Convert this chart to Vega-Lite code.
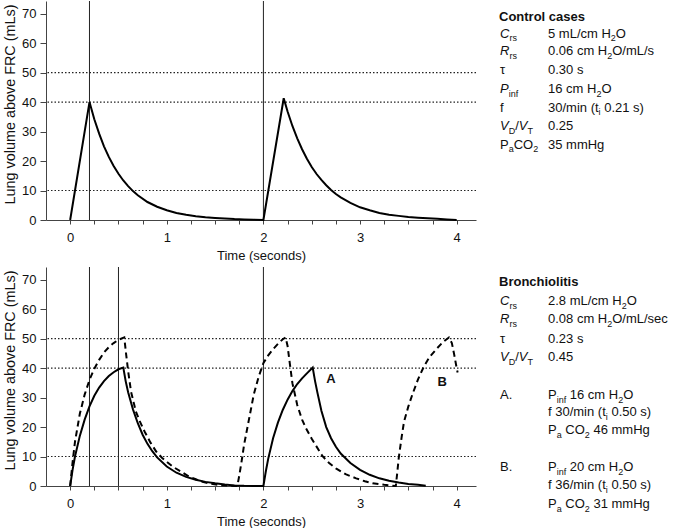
{
  "$schema": "https://vega.github.io/schema/vega-lite/v6.json",
  "background": "white",
  "padding": {"left": 2, "top": 0, "right": 0, "bottom": 0},
  "spacing": 4,
  "config": {
    "view": {"stroke": null},
    "font": "Liberation Sans",
    "axis": {
      "grid": false,
      "domainColor": "#444",
      "tickColor": "#444",
      "labelFont": "Liberation Sans",
      "titleFont": "Liberation Sans",
      "labelFontSize": 13,
      "titleFontSize": 13,
      "titleFontWeight": "normal",
      "labelColor": "#111",
      "titleColor": "#111",
      "labelOverlap": false,
      "labelFlush": false
    },
    "axisX": {"tickSize": 4, "labelPadding": 7, "titlePadding": 5},
    "axisY": {"tickSize": 6, "labelPadding": 4, "titlePadding": 4, "titleFontSize": 14.4},
    "text": {"font": "Liberation Sans", "color": "#111"}
  },
  "datasets": {
    "hl": [{"v": 10}, {"v": 40}, {"v": 50}],
    "vl1": [{"t": 0.2}, {"t": 2.0}],
    "vl2": [{"t": 0.2}, {"t": 0.5}, {"t": 2.0}],
    "ab": [{"t": 2.70, "v": 36.3, "label": "A"}, {"t": 3.85, "v": 35.4, "label": "B"}],
    "ctrl": [
      {"t": 0, "v": 0}, {"t": 0.2, "v": 40}, {"t": 0.25, "v": 34.2}, {"t": 0.3, "v": 29.3}, {"t": 0.35, "v": 25.0},
      {"t": 0.4, "v": 21.4}, {"t": 0.45, "v": 18.3}, {"t": 0.5, "v": 15.7}, {"t": 0.55, "v": 13.4}, {"t": 0.6, "v": 11.5},
      {"t": 0.65, "v": 9.8}, {"t": 0.7, "v": 8.4}, {"t": 0.8, "v": 6.1}, {"t": 0.9, "v": 4.5}, {"t": 1.0, "v": 3.3},
      {"t": 1.1, "v": 2.4}, {"t": 1.2, "v": 1.8}, {"t": 1.3, "v": 1.3}, {"t": 1.4, "v": 0.9}, {"t": 1.5, "v": 0.7},
      {"t": 1.6, "v": 0.5}, {"t": 1.7, "v": 0.3}, {"t": 1.8, "v": 0.2}, {"t": 1.9, "v": 0.1}, {"t": 2.0, "v": 0},
      {"t": 2.21, "v": 41.3}, {"t": 2.25, "v": 36.8}, {"t": 2.3, "v": 31.9}, {"t": 2.35, "v": 27.7}, {"t": 2.4, "v": 24.0},
      {"t": 2.45, "v": 20.8}, {"t": 2.5, "v": 18.0}, {"t": 2.55, "v": 15.6}, {"t": 2.6, "v": 13.6}, {"t": 2.65, "v": 11.8},
      {"t": 2.7, "v": 10.2}, {"t": 2.75, "v": 8.8}, {"t": 2.8, "v": 7.7}, {"t": 2.9, "v": 5.8}, {"t": 3.0, "v": 4.3},
      {"t": 3.1, "v": 3.3}, {"t": 3.2, "v": 2.4}, {"t": 3.3, "v": 1.8}, {"t": 3.4, "v": 1.4}, {"t": 3.5, "v": 1.0},
      {"t": 3.6, "v": 0.8}, {"t": 3.7, "v": 0.6}, {"t": 3.8, "v": 0.4}, {"t": 3.9, "v": 0.2}, {"t": 4.0, "v": 0}
    ],
    "solA": [
      {"t": 0, "v": 0}, {"t": 0.025, "v": 5.5}, {"t": 0.05, "v": 10.0}, {"t": 0.1, "v": 17.0}, {"t": 0.15, "v": 22.5},
      {"t": 0.2, "v": 27.0}, {"t": 0.25, "v": 30.6}, {"t": 0.3, "v": 33.4}, {"t": 0.35, "v": 35.6}, {"t": 0.4, "v": 37.3},
      {"t": 0.45, "v": 38.6}, {"t": 0.5, "v": 39.6}, {"t": 0.55, "v": 40.2}, {"t": 0.575, "v": 35.5}, {"t": 0.6, "v": 31.8},
      {"t": 0.65, "v": 26.0}, {"t": 0.7, "v": 21.3}, {"t": 0.75, "v": 17.4}, {"t": 0.8, "v": 14.3}, {"t": 0.85, "v": 11.8},
      {"t": 0.9, "v": 9.7}, {"t": 1.0, "v": 6.6}, {"t": 1.1, "v": 4.5}, {"t": 1.2, "v": 3.1}, {"t": 1.3, "v": 2.1},
      {"t": 1.4, "v": 1.4}, {"t": 1.5, "v": 0.9}, {"t": 1.6, "v": 0.5}, {"t": 1.7, "v": 0.2}, {"t": 1.8, "v": 0.05},
      {"t": 1.9, "v": 0}, {"t": 2.0, "v": 0},
      {"t": 2.025, "v": 5.0}, {"t": 2.05, "v": 9.3}, {"t": 2.1, "v": 16.2}, {"t": 2.15, "v": 21.5}, {"t": 2.2, "v": 25.8},
      {"t": 2.25, "v": 29.3}, {"t": 2.3, "v": 32.2}, {"t": 2.35, "v": 34.6}, {"t": 2.4, "v": 36.5}, {"t": 2.45, "v": 38.2},
      {"t": 2.51, "v": 40.2}, {"t": 2.535, "v": 35.5}, {"t": 2.56, "v": 31.5}, {"t": 2.6, "v": 25.5}, {"t": 2.65, "v": 20.0},
      {"t": 2.7, "v": 16.2}, {"t": 2.75, "v": 13.3}, {"t": 2.8, "v": 11.0}, {"t": 2.9, "v": 7.8}, {"t": 3.0, "v": 5.5},
      {"t": 3.1, "v": 3.8}, {"t": 3.2, "v": 2.6}, {"t": 3.3, "v": 1.8}, {"t": 3.4, "v": 1.2}, {"t": 3.5, "v": 0.7},
      {"t": 3.6, "v": 0.4}, {"t": 3.68, "v": 0.1}
    ],
    "dashB": [
      {"t": 0, "v": 0}, {"t": 0.025, "v": 8}, {"t": 0.05, "v": 15}, {"t": 0.1, "v": 24.5}, {"t": 0.15, "v": 31},
      {"t": 0.2, "v": 36}, {"t": 0.25, "v": 39.8}, {"t": 0.3, "v": 42.8}, {"t": 0.35, "v": 45.3}, {"t": 0.4, "v": 47.1},
      {"t": 0.45, "v": 48.5}, {"t": 0.5, "v": 49.6}, {"t": 0.56, "v": 50.4}, {"t": 0.58, "v": 44.5}, {"t": 0.6, "v": 39.0},
      {"t": 0.63, "v": 32.0}, {"t": 0.68, "v": 25.3}, {"t": 0.72, "v": 22.0}, {"t": 0.77, "v": 18.5}, {"t": 0.83, "v": 14.8},
      {"t": 0.89, "v": 11.7}, {"t": 0.95, "v": 9.6}, {"t": 1.0, "v": 8.2}, {"t": 1.06, "v": 6.6}, {"t": 1.15, "v": 4.8},
      {"t": 1.23, "v": 3.2}, {"t": 1.3, "v": 2.3}, {"t": 1.37, "v": 1.4}, {"t": 1.45, "v": 0.8}, {"t": 1.55, "v": 0.3},
      {"t": 1.65, "v": 0.1}, {"t": 1.73, "v": 0},
      {"t": 1.75, "v": 3.5}, {"t": 1.775, "v": 8.5}, {"t": 1.8, "v": 14}, {"t": 1.85, "v": 22.5}, {"t": 1.9, "v": 31},
      {"t": 1.95, "v": 37}, {"t": 2.0, "v": 41.7}, {"t": 2.05, "v": 44.3}, {"t": 2.1, "v": 46.4}, {"t": 2.15, "v": 48.2},
      {"t": 2.2, "v": 49.8}, {"t": 2.23, "v": 50.4}, {"t": 2.25, "v": 47.5}, {"t": 2.275, "v": 41.1}, {"t": 2.3, "v": 34.9},
      {"t": 2.35, "v": 27.5}, {"t": 2.4, "v": 22.5}, {"t": 2.44, "v": 19.6}, {"t": 2.5, "v": 16.0}, {"t": 2.54, "v": 13.9},
      {"t": 2.61, "v": 10.2}, {"t": 2.68, "v": 7.8}, {"t": 2.75, "v": 6.0}, {"t": 2.85, "v": 4.0}, {"t": 2.96, "v": 2.6},
      {"t": 3.05, "v": 1.6}, {"t": 3.13, "v": 0.9}, {"t": 3.25, "v": 0.4}, {"t": 3.37, "v": 0},
      {"t": 3.385, "v": 4.5}, {"t": 3.4, "v": 9.4}, {"t": 3.43, "v": 16.5}, {"t": 3.455, "v": 21.8}, {"t": 3.5, "v": 27.0},
      {"t": 3.54, "v": 30.9}, {"t": 3.6, "v": 36.2}, {"t": 3.66, "v": 40.5}, {"t": 3.72, "v": 43.8}, {"t": 3.8, "v": 46.8},
      {"t": 3.86, "v": 48.9}, {"t": 3.92, "v": 50.4}, {"t": 3.95, "v": 48.5}, {"t": 3.975, "v": 44.5}, {"t": 4.0, "v": 40.0},
      {"t": 4.01, "v": 38.5}
    ],
    "txt1": [
      {"x": 7, "y": 15.5, "s": "b", "t": "Control cases"},
      {"x": 8, "y": 32.5, "s": "i", "t": "C"},
      {"x": 17.4, "y": 37, "s": "sub", "t": "rs"},
      {"x": 8, "y": 50, "s": "i", "t": "R"},
      {"x": 17.4, "y": 54.5, "s": "sub", "t": "rs"},
      {"x": 8, "y": 69, "s": "n", "t": "τ"},
      {"x": 8, "y": 88, "s": "i", "t": "P"},
      {"x": 16.7, "y": 92.5, "s": "sub", "t": "inf"},
      {"x": 8, "y": 106.5, "s": "n", "t": "f"},
      {"x": 8, "y": 125, "s": "i", "t": "V"},
      {"x": 16.7, "y": 129.5, "s": "sub", "t": "D"},
      {"x": 23.2, "y": 125, "s": "n", "t": "/"},
      {"x": 26.8, "y": 125, "s": "i", "t": "V"},
      {"x": 35.5, "y": 129.5, "s": "sub", "t": "T"},
      {"x": 8, "y": 143.5, "s": "n", "t": "P"},
      {"x": 16.7, "y": 148, "s": "sub", "t": "a"},
      {"x": 21.7, "y": 143.5, "s": "n", "t": "CO"},
      {"x": 41.2, "y": 148, "s": "sub", "t": "2"},
      {"x": 56, "y": 32.5, "s": "n", "t": "5 mL/cm H"},
      {"x": 118.8, "y": 37, "s": "sub", "t": "2"},
      {"x": 123.8, "y": 32.5, "s": "n", "t": "O"},
      {"x": 56, "y": 50, "s": "n", "t": "0.06 cm H"},
      {"x": 115.2, "y": 54.5, "s": "sub", "t": "2"},
      {"x": 120.2, "y": 50, "s": "n", "t": "O/mL/s"},
      {"x": 56, "y": 69, "s": "n", "t": "0.30 s"},
      {"x": 56, "y": 88, "s": "n", "t": "16 cm H"},
      {"x": 104.4, "y": 92.5, "s": "sub", "t": "2"},
      {"x": 109.4, "y": 88, "s": "n", "t": "O"},
      {"x": 56, "y": 106.5, "s": "n", "t": "30/min (t"},
      {"x": 106.6, "y": 111, "s": "sub", "t": "i"},
      {"x": 112.2, "y": 106.5, "s": "n", "t": "0.21 s)"},
      {"x": 56, "y": 125, "s": "n", "t": "0.25"},
      {"x": 56, "y": 143.5, "s": "n", "t": "35 mmHg"}
    ],
    "txt2": [
      {"x": 7, "y": 14.7, "s": "b", "t": "Bronchiolitis"},
      {"x": 8, "y": 34, "s": "i", "t": "C"},
      {"x": 17.4, "y": 38.5, "s": "sub", "t": "rs"},
      {"x": 8, "y": 52, "s": "i", "t": "R"},
      {"x": 17.4, "y": 56.5, "s": "sub", "t": "rs"},
      {"x": 8, "y": 71.5, "s": "n", "t": "τ"},
      {"x": 8, "y": 90, "s": "i", "t": "V"},
      {"x": 16.7, "y": 94.5, "s": "sub", "t": "D"},
      {"x": 23.2, "y": 90, "s": "n", "t": "/"},
      {"x": 26.8, "y": 90, "s": "i", "t": "V"},
      {"x": 35.5, "y": 94.5, "s": "sub", "t": "T"},
      {"x": 56, "y": 34, "s": "n", "t": "2.8 mL/cm H"},
      {"x": 129.7, "y": 38.5, "s": "sub", "t": "2"},
      {"x": 134.7, "y": 34, "s": "n", "t": "O"},
      {"x": 56, "y": 52, "s": "n", "t": "0.08 cm H"},
      {"x": 115.2, "y": 56.5, "s": "sub", "t": "2"},
      {"x": 120.2, "y": 52, "s": "n", "t": "O/mL/sec"},
      {"x": 56, "y": 71.5, "s": "n", "t": "0.23 s"},
      {"x": 56, "y": 90, "s": "n", "t": "0.45"},
      {"x": 8, "y": 128, "s": "n", "t": "A."},
      {"x": 56, "y": 128, "s": "n", "t": "P"},
      {"x": 64.7, "y": 132.5, "s": "sub", "t": "inf"},
      {"x": 77.8, "y": 128, "s": "n", "t": "16 cm H"},
      {"x": 126.2, "y": 132.5, "s": "sub", "t": "2"},
      {"x": 131.2, "y": 128, "s": "n", "t": "O"},
      {"x": 56, "y": 145, "s": "n", "t": "f 30/min (t"},
      {"x": 113.8, "y": 149.5, "s": "sub", "t": "i"},
      {"x": 119.4, "y": 145, "s": "n", "t": "0.50 s)"},
      {"x": 56, "y": 163, "s": "n", "t": "P"},
      {"x": 64.7, "y": 167.5, "s": "sub", "t": "a"},
      {"x": 73.3, "y": 163, "s": "n", "t": "CO"},
      {"x": 92.8, "y": 167.5, "s": "sub", "t": "2"},
      {"x": 101.4, "y": 163, "s": "n", "t": "46 mmHg"},
      {"x": 8, "y": 200, "s": "n", "t": "B."},
      {"x": 56, "y": 200, "s": "n", "t": "P"},
      {"x": 64.7, "y": 204.5, "s": "sub", "t": "inf"},
      {"x": 77.8, "y": 200, "s": "n", "t": "20 cm H"},
      {"x": 126.2, "y": 204.5, "s": "sub", "t": "2"},
      {"x": 131.2, "y": 200, "s": "n", "t": "O"},
      {"x": 56, "y": 218, "s": "n", "t": "f 36/min (t"},
      {"x": 113.8, "y": 222.5, "s": "sub", "t": "i"},
      {"x": 119.4, "y": 218, "s": "n", "t": "0.50 s)"},
      {"x": 56, "y": 237, "s": "n", "t": "P"},
      {"x": 64.7, "y": 241.5, "s": "sub", "t": "a"},
      {"x": 73.3, "y": 237, "s": "n", "t": "CO"},
      {"x": 92.8, "y": 241.5, "s": "sub", "t": "2"},
      {"x": 101.4, "y": 237, "s": "n", "t": "31 mmHg"}
    ]
  },
  "vconcat": [
    {
      "spacing": 15,
      "hconcat": [
        {
          "width": 430,
          "height": 219,
          "layer": [
            {
              "data": {"name": "hl"},
              "mark": {"type": "rule", "strokeDash": [1.5, 2], "color": "#222", "strokeWidth": 1.2},
              "encoding": {
                "y": {
                  "field": "v", "type": "quantitative", "title": "Lung volume above FRC (mLs)",
                  "scale": {"domain": [0, 74.3], "nice": false},
                  "axis": {"values": [0, 10, 20, 30, 40, 50, 60, 70], "titleY": 103}
                }
              }
            },
            {
              "data": {"name": "vl1"},
              "mark": {"type": "rule", "color": "#222", "strokeWidth": 1},
              "encoding": {
                "x": {
                  "field": "t", "type": "quantitative", "title": "Time (seconds)",
                  "scale": {"domain": [-0.25, 4.2], "nice": false, "zero": false},
                  "axis": {
                    "values": [0, 0.25, 0.5, 0.75, 1, 1.25, 1.5, 1.75, 2, 2.25, 2.5, 2.75, 3, 3.25, 3.5, 3.75, 4],
                    "labelExpr": "datum.value % 1 === 0 ? format(datum.value, 'd') : ''"
                  }
                }
              }
            },
            {
              "data": {"name": "ctrl"},
              "mark": {"type": "line", "color": "#000", "strokeWidth": 2},
              "encoding": {
                "x": {
                  "field": "t", "type": "quantitative", "title": "Time (seconds)",
                  "scale": {"domain": [-0.25, 4.2], "nice": false, "zero": false},
                  "axis": {
                    "values": [0, 0.25, 0.5, 0.75, 1, 1.25, 1.5, 1.75, 2, 2.25, 2.5, 2.75, 3, 3.25, 3.5, 3.75, 4],
                    "labelExpr": "datum.value % 1 === 0 ? format(datum.value, 'd') : ''"
                  }
                },
                "y": {
                  "field": "v", "type": "quantitative", "title": "Lung volume above FRC (mLs)",
                  "scale": {"domain": [0, 74.3], "nice": false},
                  "axis": {"values": [0, 10, 20, 30, 40, 50, 60, 70], "titleY": 103}
                }
              }
            }
          ]
        },
        {
          "width": 183,
          "height": 219,
          "data": {"name": "txt1"},
          "encoding": {
            "x": {"field": "x", "type": "quantitative", "scale": {"domain": [0, 183], "nice": false}, "axis": null},
            "y": {"field": "y", "type": "quantitative", "scale": {"domain": [0, 219], "nice": false, "reverse": true}, "axis": null},
            "text": {"field": "t"}
          },
          "layer": [
            {"transform": [{"filter": "datum.s == 'n'"}], "mark": {"type": "text", "align": "left", "baseline": "middle", "fontSize": 13}},
            {"transform": [{"filter": "datum.s == 'i'"}], "mark": {"type": "text", "align": "left", "baseline": "middle", "fontSize": 13, "fontStyle": "italic"}},
            {"transform": [{"filter": "datum.s == 'b'"}], "mark": {"type": "text", "align": "left", "baseline": "middle", "fontSize": 13, "fontWeight": "bold"}},
            {"transform": [{"filter": "datum.s == 'sub'"}], "mark": {"type": "text", "align": "left", "baseline": "middle", "fontSize": 9}}
          ]
        }
      ]
    },
    {
      "spacing": 15,
      "hconcat": [
        {
          "width": 430,
          "height": 219,
          "layer": [
            {
              "data": {"name": "hl"},
              "mark": {"type": "rule", "strokeDash": [1.5, 2], "color": "#222", "strokeWidth": 1.2},
              "encoding": {
                "y": {
                  "field": "v", "type": "quantitative", "title": "Lung volume above FRC (mLs)",
                  "scale": {"domain": [0, 74.3], "nice": false},
                  "axis": {"values": [0, 10, 20, 30, 40, 50, 60, 70], "titleY": 103}
                }
              }
            },
            {
              "data": {"name": "vl2"},
              "mark": {"type": "rule", "color": "#222", "strokeWidth": 1},
              "encoding": {
                "x": {
                  "field": "t", "type": "quantitative", "title": "Time (seconds)",
                  "scale": {"domain": [-0.25, 4.2], "nice": false, "zero": false},
                  "axis": {
                    "values": [0, 0.25, 0.5, 0.75, 1, 1.25, 1.5, 1.75, 2, 2.25, 2.5, 2.75, 3, 3.25, 3.5, 3.75, 4],
                    "labelExpr": "datum.value % 1 === 0 ? format(datum.value, 'd') : ''"
                  }
                }
              }
            },
            {
              "data": {"name": "dashB"},
              "mark": {"type": "line", "color": "#000", "strokeWidth": 2, "strokeDash": [6, 4]},
              "encoding": {
                "x": {
                  "field": "t", "type": "quantitative", "title": "Time (seconds)",
                  "scale": {"domain": [-0.25, 4.2], "nice": false, "zero": false},
                  "axis": {
                    "values": [0, 0.25, 0.5, 0.75, 1, 1.25, 1.5, 1.75, 2, 2.25, 2.5, 2.75, 3, 3.25, 3.5, 3.75, 4],
                    "labelExpr": "datum.value % 1 === 0 ? format(datum.value, 'd') : ''"
                  }
                },
                "y": {
                  "field": "v", "type": "quantitative", "title": "Lung volume above FRC (mLs)",
                  "scale": {"domain": [0, 74.3], "nice": false},
                  "axis": {"values": [0, 10, 20, 30, 40, 50, 60, 70], "titleY": 103}
                }
              }
            },
            {
              "data": {"name": "solA"},
              "mark": {"type": "line", "color": "#000", "strokeWidth": 2},
              "encoding": {
                "x": {
                  "field": "t", "type": "quantitative", "title": "Time (seconds)",
                  "scale": {"domain": [-0.25, 4.2], "nice": false, "zero": false},
                  "axis": {
                    "values": [0, 0.25, 0.5, 0.75, 1, 1.25, 1.5, 1.75, 2, 2.25, 2.5, 2.75, 3, 3.25, 3.5, 3.75, 4],
                    "labelExpr": "datum.value % 1 === 0 ? format(datum.value, 'd') : ''"
                  }
                },
                "y": {
                  "field": "v", "type": "quantitative", "title": "Lung volume above FRC (mLs)",
                  "scale": {"domain": [0, 74.3], "nice": false},
                  "axis": {"values": [0, 10, 20, 30, 40, 50, 60, 70], "titleY": 103}
                }
              }
            },
            {
              "data": {"name": "ab"},
              "mark": {"type": "text", "fontSize": 13, "fontWeight": "bold", "align": "center", "baseline": "middle"},
              "encoding": {
                "x": {
                  "field": "t", "type": "quantitative", "title": "Time (seconds)",
                  "scale": {"domain": [-0.25, 4.2], "nice": false, "zero": false},
                  "axis": {
                    "values": [0, 0.25, 0.5, 0.75, 1, 1.25, 1.5, 1.75, 2, 2.25, 2.5, 2.75, 3, 3.25, 3.5, 3.75, 4],
                    "labelExpr": "datum.value % 1 === 0 ? format(datum.value, 'd') : ''"
                  }
                },
                "y": {
                  "field": "v", "type": "quantitative", "title": "Lung volume above FRC (mLs)",
                  "scale": {"domain": [0, 74.3], "nice": false},
                  "axis": {"values": [0, 10, 20, 30, 40, 50, 60, 70], "titleY": 103}
                },
                "text": {"field": "label"}
              }
            }
          ]
        },
        {
          "width": 183,
          "height": 219,
          "data": {"name": "txt2"},
          "encoding": {
            "x": {"field": "x", "type": "quantitative", "scale": {"domain": [0, 183], "nice": false}, "axis": null},
            "y": {"field": "y", "type": "quantitative", "scale": {"domain": [0, 219], "nice": false, "reverse": true}, "axis": null},
            "text": {"field": "t"}
          },
          "layer": [
            {"transform": [{"filter": "datum.s == 'n'"}], "mark": {"type": "text", "align": "left", "baseline": "middle", "fontSize": 13}},
            {"transform": [{"filter": "datum.s == 'i'"}], "mark": {"type": "text", "align": "left", "baseline": "middle", "fontSize": 13, "fontStyle": "italic"}},
            {"transform": [{"filter": "datum.s == 'b'"}], "mark": {"type": "text", "align": "left", "baseline": "middle", "fontSize": 13, "fontWeight": "bold"}},
            {"transform": [{"filter": "datum.s == 'sub'"}], "mark": {"type": "text", "align": "left", "baseline": "middle", "fontSize": 9}}
          ]
        }
      ]
    }
  ]
}
